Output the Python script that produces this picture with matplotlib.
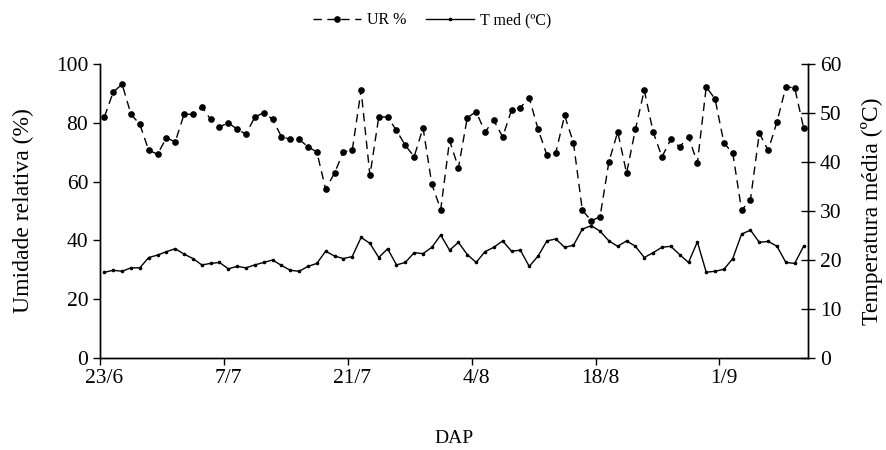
import matplotlib.pyplot as plt

plt.rcParams['font.family'] = ['Liberation Serif', 'DejaVu Serif']

# date labels, every 14 days starting 23/6
date_labels = ["23/6", "7/7", "21/7", "4/8", "18/8", "1/9"]

# relative humidity (%), one value per day
ur = [82.0, 90.5, 93.1, 82.9, 79.5, 70.7, 69.3, 74.9, 73.5, 82.9,
      82.9, 85.4, 81.2, 78.6, 80.0, 77.8, 76.1, 82.0, 83.4, 81.2,
      75.3, 74.4, 74.4, 71.8, 70.1, 57.4, 62.9, 70.1, 70.6, 91.1,
      62.1, 82.0, 82.0, 77.4, 72.3, 68.5, 78.3, 59.1, 50.5, 74.0,
      64.7, 81.7, 83.8, 76.9, 80.8, 75.2, 84.3, 85.2, 88.5, 77.8,
      69.0, 69.8, 82.5, 73.2, 50.3, 46.7, 48.0, 66.7, 76.9, 62.9,
      77.8, 91.1, 76.9, 68.4, 74.4, 71.8, 75.3, 66.3, 92.2, 88.1,
      73.1, 69.7, 50.2, 53.9, 76.5, 70.6, 80.4, 92.2, 91.9, 78.3]

# mean temperature (ºC)
tmed = [17.5, 17.9, 17.7, 18.4, 18.4, 20.5, 21.0, 21.7, 22.3, 21.2,
        20.3, 19.0, 19.3, 19.5, 18.2, 18.7, 18.4, 19.0, 19.5, 20.0,
        18.9, 17.9, 17.7, 18.7, 19.3, 21.8, 20.8, 20.3, 20.7, 24.6,
        23.4, 20.5, 22.3, 19.0, 19.5, 21.5, 21.3, 22.6, 25.1, 22.0,
        23.6, 21.1, 19.5, 21.7, 22.6, 23.9, 21.8, 22.0, 18.7, 20.8,
        23.9, 24.3, 22.6, 23.0, 26.3, 27.0, 25.9, 23.9, 22.8, 23.9,
        22.8, 20.5, 21.5, 22.6, 22.8, 21.1, 19.5, 23.7, 17.5, 17.7,
        18.1, 20.3, 25.3, 26.1, 23.6, 23.8, 22.8, 19.5, 19.3, 22.8]

x = list(range(len(ur)))

fig = plt.figure(figsize=(8.87, 4.5), dpi=100)
ax = fig.add_axes([100 / 887, 92 / 450, 708 / 887, 294 / 450])
ax2 = ax.twinx()

l1, = ax.plot(x, ur, color='black', lw=1, ls=(0, (6, 4)),
              marker='o', ms=3.8, label='UR %')
l2, = ax2.plot(x, tmed, color='black', lw=1, marker='o', ms=1.6,
               label='T med (ºC)')

ax.set_xlim(-0.5, len(ur) - 0.5)
ax.set_ylim(0, 100)
ax2.set_ylim(0, 60)
ax.set_yticks(range(0, 101, 20))
ax2.set_yticks(range(0, 61, 10))

# tick marks between categories, labels on the category
ax.set_xticks([-0.5 + 14 * k for k in range(len(date_labels))])
ax.set_xticklabels([])
ax.set_xticks([14 * k for k in range(len(date_labels))], minor=True)
ax.set_xticklabels(date_labels, minor=True)
ax.tick_params(axis='x', which='major', direction='out', length=5, width=1)
ax.tick_params(axis='x', which='minor', length=0, labelsize=15.5, pad=8)
ax.tick_params(axis='y', direction='out', length=5, width=1, labelsize=15.5)
ax2.tick_params(axis='y', direction='inout', length=10, width=1, labelsize=15.5)

for a in (ax, ax2):
    a.spines['top'].set_visible(False)
    for s in ('left', 'right', 'bottom'):
        a.spines[s].set_linewidth(1)

ax.set_ylabel('Umidade relativa (%)', fontsize=17, labelpad=16)
ax2.set_ylabel('Temperatura média (ºC)', fontsize=17, labelpad=14)
ax.set_xlabel('DAP', fontsize=14, labelpad=30)

fig.legend(handles=[l1, l2], loc='center', bbox_to_anchor=(0.487, 0.955),
           ncol=2, frameon=False, fontsize=11.5, handlelength=3,
           columnspacing=1.2, handletextpad=0.4)

fig.savefig('out.png', dpi=100)
